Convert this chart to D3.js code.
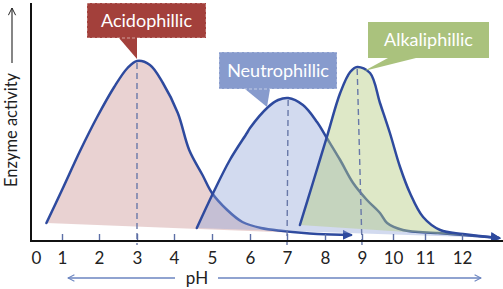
<!DOCTYPE html>
<html>
<head>
<meta charset="utf-8">
<script src="https://cdn.jsdelivr.net/npm/d3@7"></script>
<style>
  body { margin: 0; background: #fff; }
  svg { display: block; font-family: Lato, "Open Sans", sans-serif; }
</style>
</head>
<body>
<svg id="chart" width="503" height="289"></svg>
<script>
// pH tick labels
const phTicks = [0, 1, 2, 3, 4, 5, 6, 7, 8, 9, 10, 11, 12];

// curves: pH vs enzyme activity (0-100)
const acidPh  = [0.4, 1.0, 1.5, 1.95, 2.4, 2.75, 3.0, 3.35, 3.7, 4.1, 4.4, 4.75, 5.0, 5.4, 5.8, 6.3, 6.9, 7.8, 8.7];
const acidAct = [8.5, 25, 45, 61.5, 76.5, 86, 89.5, 87.5, 78.5, 63.5, 45, 32.5, 23.5, 15, 9, 6, 4.5, 3, 2.5];

const neutPh  = [4.6, 5.03, 5.47, 5.92, 6.0, 6.49, 6.76, 7.03, 7.42, 7.79, 8.05, 8.41, 8.76, 9.16, 9.58, 9.81, 10.31, 11.35, 12.03, 13.0];
const neutAct = [6, 23.5, 40, 53.5, 56, 66.5, 70, 71, 67.5, 59, 51, 40, 28.5, 20, 13.5, 8.5, 5, 3.5, 2.5, 1];

const alkPh  = [7.34, 7.68, 8.05, 8.41, 8.68, 8.87, 9.26, 9.58, 9.9, 10.22, 10.53, 10.94, 11.41, 12.03, 13.0];
const alkAct = [7.5, 28.5, 51.5, 73.5, 84, 86.5, 83.5, 68.5, 53.5, 36.5, 23.5, 11.5, 5, 3, 1];

// optimum pH marks and labels
const names = ["Acidophillic", "Neutrophillic", "Alkaliphillic"];
const optimumPh = [3, 7, 9];

function init() {
    const svg = d3.select("#chart");

    // tick spacing in the picture is not even, so piecewise
    const x = d3.scaleLinear()
        .domain(phTicks)
        .range([36, 62, 99, 137, 174, 212, 250, 287, 325, 362, 393, 425, 462]);
    const y = d3.scaleLinear().domain([0, 100]).range([240, 40]);

    const defs = svg.append("defs");
    defs.append("marker")
        .attr("id", "curveArrow")
        .attr("viewBox", "0 0 10 10")
        .attr("refX", 8).attr("refY", 5)
        .attr("markerWidth", 4).attr("markerHeight", 4)
        .attr("orient", "auto")
        .append("path")
        .attr("d", "M0,0L10,5L0,10z")
        .attr("fill", "#2e4a9e");
    defs.append("marker")
        .attr("id", "openArrow")
        .attr("viewBox", "0 0 10 10")
        .attr("refX", 9).attr("refY", 5)
        .attr("markerWidth", 8).attr("markerHeight", 8)
        .attr("markerUnits", "userSpaceOnUse")
        .attr("orient", "auto")
        .append("path")
        .attr("d", "M1,1L9,5L1,9")
        .attr("fill", "none")
        .attr("stroke", "#6b85c0")
        .attr("stroke-width", 1.3);
    defs.append("marker")
        .attr("id", "blackArrow")
        .attr("viewBox", "0 0 10 10")
        .attr("refX", 9).attr("refY", 5)
        .attr("markerWidth", 9).attr("markerHeight", 9)
        .attr("markerUnits", "userSpaceOnUse")
        .attr("orient", "auto")
        .append("path")
        .attr("d", "M1,1L9,5L1,9")
        .attr("fill", "none")
        .attr("stroke", "#222")
        .attr("stroke-width", 1.1);

    const series = [
        {ph: acidPh, act: acidAct, fill: "#c98f8f", op: 0.4},
        {ph: neutPh, act: neutAct, fill: "#8ea3d6", op: 0.4},
        {ph: alkPh, act: alkAct, fill: "#b5cc82", op: 0.45}
    ];

    const line = d3.line()
        .x(d => x(d[0]))
        .y(d => y(d[1]))
        .curve(d3.curveCatmullRom.alpha(0.5));

    // fill, then line, so later fills tint earlier lines
    series.forEach(s => {
        const pts = s.ph.map((p, i) => [p, s.act[i]]);
        svg.append("path")
            .attr("d", line(pts) + "Z")
            .attr("fill", s.fill)
            .attr("fill-opacity", s.op)
            .attr("stroke", "none");
        svg.append("path")
            .attr("d", line(pts))
            .attr("fill", "none")
            .attr("stroke", "#2e4a9e")
            .attr("stroke-width", 2.5)
            .attr("stroke-linecap", "round")
            .attr("marker-end", "url(#curveArrow)");
    });

    // dashed optimum lines
    const peaks = series.map(s => {
        const i = d3.maxIndex(s.act);
        return [s.ph[i], s.act[i]];
    });
    svg.selectAll(".opt").data(optimumPh).enter()
        .append("line")
        .attr("class", "opt")
        .attr("x1", (d, i) => x(peaks[i][0]))
        .attr("x2", d => x(d))
        .attr("y1", (d, i) => y(peaks[i][1]) + 2)
        .attr("y2", y(0) + 5)
        .attr("stroke", "#6878a8")
        .attr("stroke-width", 1.4)
        .attr("stroke-dasharray", "6,4");

    // x axis
    const xAxis = d3.axisBottom(x)
        .tickValues(phTicks)
        .tickSize(-7)
        .tickPadding(11);
    const gx = svg.append("g")
        .attr("transform", `translate(0, ${y(0) + 1})`)
        .call(xAxis);
    gx.select(".domain").remove();
    gx.selectAll(".tick line")
        .attr("stroke", "#5d6fa6")
        .attr("stroke-width", 1.4)
        .attr("opacity", d => d === 0 ? 0 : 1);
    gx.selectAll(".tick text")
        .attr("fill", "#222")
        .style("font-size", "17px")
        .style("font-family", "Lato, sans-serif");

    // axis lines
    svg.append("line")
        .attr("x1", 31).attr("x2", 503)
        .attr("y1", y(0) + 1).attr("y2", y(0) + 1)
        .attr("stroke", "#111").attr("stroke-width", 2);
    svg.append("line")
        .attr("x1", 31).attr("x2", 31)
        .attr("y1", 3).attr("y2", y(0) + 2)
        .attr("stroke", "#111").attr("stroke-width", 2);

    // pH label with arrows
    svg.append("text")
        .attr("x", 197).attr("y", 284)
        .attr("text-anchor", "middle")
        .attr("fill", "#222")
        .style("font-size", "17px")
        .text("pH");
    svg.append("line")
        .attr("x1", 175).attr("x2", 68)
        .attr("y1", 278).attr("y2", 278)
        .attr("stroke", "#6b85c0").attr("stroke-width", 1.3)
        .attr("marker-end", "url(#openArrow)");
    svg.append("line")
        .attr("x1", 218).attr("x2", 481)
        .attr("y1", 278).attr("y2", 278)
        .attr("stroke", "#6b85c0").attr("stroke-width", 1.3)
        .attr("marker-end", "url(#openArrow)");

    // y label
    svg.append("text")
        .attr("transform", "translate(17, 130) rotate(-90)")
        .attr("text-anchor", "middle")
        .attr("fill", "#222")
        .style("font-size", "16.5px")
        .text("Enzyme activity");
    svg.append("line")
        .attr("x1", 12).attr("x2", 12)
        .attr("y1", 63).attr("y2", 8)
        .attr("stroke", "#222").attr("stroke-width", 1.1)
        .attr("marker-end", "url(#blackArrow)");

    // callouts
    const boxes = [
        {x0: 87, y0: 3, w: 119, h: 35, fill: "#a3403b", ptr: [[119, 38], [137, 38], [137, 59]]},
        {x0: 219, y0: 52, w: 118, h: 37, fill: "#879bcd", ptr: [[245, 89], [270, 89], [267, 107]]},
        {x0: 368, y0: 22, w: 121, h: 36, fill: "#aac27d", ptr: [[388, 58], [416, 58], [364, 71]]}
    ];
    boxes.forEach((b, i) => {
        const g = svg.append("g");
        g.append("path")
            .attr("d", d3.line()(b.ptr) + "Z")
            .attr("fill", b.fill);
        g.append("rect")
            .attr("x", b.x0).attr("y", b.y0)
            .attr("width", b.w).attr("height", b.h)
            .attr("fill", b.fill)
            .attr("stroke", i < 2 ? "#ffffff" : "none")
            .attr("stroke-opacity", 0.5)
            .attr("stroke-width", 1)
            .attr("stroke-dasharray", "3,2");
        g.append("text")
            .attr("x", b.x0 + b.w / 2)
            .attr("y", b.y0 + b.h / 2 + 6)
            .attr("text-anchor", "middle")
            .attr("fill", "#fff")
            .style("font-size", "18px")
            .text(names[i]);
    });
}

window.onload = init;
</script>
</body>
</html>
